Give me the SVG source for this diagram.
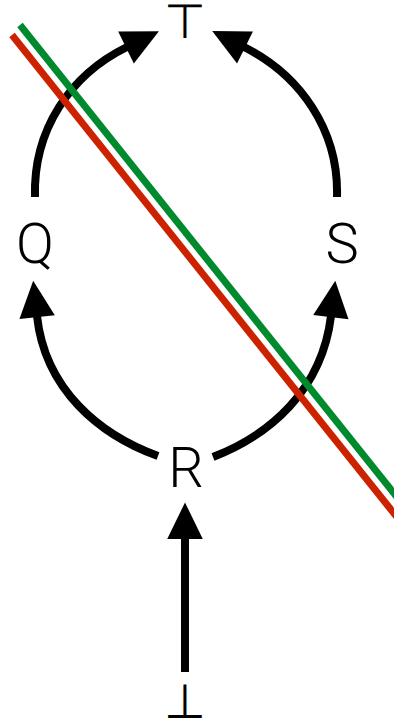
<svg xmlns="http://www.w3.org/2000/svg" width="394" height="721" viewBox="0 0 394 721">
<style>
.lbl{font-family:"Roboto","Open Sans","Liberation Sans",sans-serif;font-weight:300;font-size:56px;fill:#000;text-anchor:middle}
.sym{font-family:"DejaVu Sans",sans-serif;font-weight:200;font-size:48px;fill:#000;text-anchor:middle}
.arc{fill:none;stroke:#000;stroke-width:8;marker-end:url(#ah)}
</style>
<defs>
<marker id="ah" markerUnits="userSpaceOnUse" markerWidth="40" markerHeight="40" viewBox="-2 -18 36 36" refX="0" refY="0" orient="auto" overflow="visible">
<path d="M-1,-16 L32,0 L-1,16 Z" fill="#000"/>
</marker>
</defs>
<rect width="394" height="721" fill="#fff"/>
<g id="connectors">
<path class="arc" d="M35,197 C33,130 70,75 127,47"/>
<path class="arc" d="M337,197 C339,130 300,75 244,47"/>
<path class="arc" d="M158,456 C100,435 45,390 37,316"/>
<path class="arc" d="M213,457 C270,435 322,390 331,316"/>
<path class="arc" d="M185,672 L185,538"/>
</g>
<g id="node-T"><text class="sym" x="185" y="38">⊤</text></g>
<g id="node-Q"><text class="lbl" x="35" y="263">Q</text></g>
<g id="node-S"><text class="lbl" x="342" y="263">S</text></g>
<g id="node-R"><text class="lbl" x="186" y="487">R</text></g>
<g id="node-bottom"><text class="sym" x="185" y="718">⊥</text></g>
<g id="cut">
<line x1="20" y1="25" x2="400" y2="501" stroke="#008a2e" stroke-width="7"/>
<line x1="12" y1="35" x2="400" y2="521" stroke="#cc2200" stroke-width="7"/>
</g>
</svg>
